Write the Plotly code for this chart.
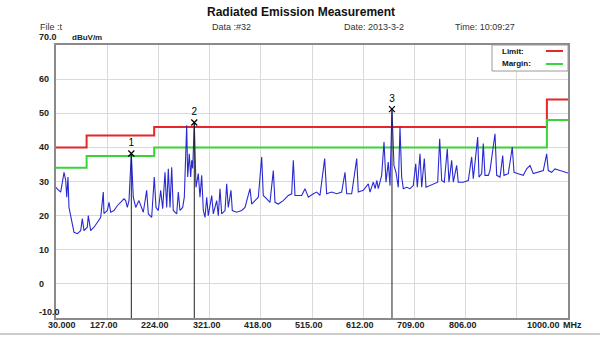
import plotly.graph_objects as go

# Measured spectrum (MHz, dBuV/m)
freq_mhz = [
    30.0, 31.3, 38.9, 45.2, 48.4, 50.3, 52.7, 54.6, 60.9, 64.1, 70.4, 76.8, 79.8, 83.0,
    89.3, 91.2, 95.7, 102.0, 108.2, 114.7, 119.6, 120.9, 127.2, 130.4, 133.6, 139.9,
    146.1, 152.6, 158.8, 162.0, 165.1, 168.3, 172.7, 176.4, 181.0, 187.2, 193.5,
    195.4, 201.8, 204.9, 211.3, 216.2, 219.5, 223.8, 228.4, 232.1, 236.5, 239.7,
    242.8, 246.0, 249.2, 252.2, 258.7, 261.7, 264.9, 270.0, 273.1, 277.6, 279.5,
    282.5, 285.2, 287.1, 289.0, 292.0, 295.2, 299.6, 302.8, 306.0, 309.1, 312.3,
    315.5, 318.5, 325.0, 328.0, 334.4, 337.5, 340.7, 343.9, 350.2,
    353.4, 356.4, 361.5, 364.0, 372.3, 381.8, 388.1, 397.5, 400.8, 407.0, 413.3,
    419.7, 422.7, 429.2, 435.4, 441.7, 444.9, 451.1, 460.6, 470.1, 476.5, 479.6,
    482.8, 489.0, 495.5, 501.7, 508.0, 517.5,
    523.9, 530.1, 539.0, 542.8, 552.3, 561.8, 571.2, 577.5, 580.7, 590.2, 599.7,
    602.7, 612.2, 621.7, 624.9, 631.1, 634.6, 637.8, 640.6, 647.0, 651.4, 655.2,
    659.5, 662.8, 666.5, 670.3, 674.1, 678.5, 681.7, 684.9, 688.0, 694.4, 700.7,
    706.9, 711.5, 714.5, 719.6, 722.8, 727.8, 731.0, 738.5, 748.0, 753.1, 756.9,
    760.7, 765.6, 771.3, 774.5, 779.6, 782.7, 789.1, 792.1, 801.6, 811.1, 817.5,
    820.6, 828.9, 831.4, 836.5, 839.5, 842.7, 849.0, 852.2, 861.7, 864.9, 871.2,
    876.3, 878.7, 886.9, 894.4, 897.7, 905.8, 915.3, 921.7, 928.0, 934.2, 943.7,
    953.2, 959.6, 962.6, 969.1, 975.3, 984.8, 994.3, 1000.0,
]
level_dbuv = [
    28.3, 28.0, 26.9, 32.7, 30.3, 25.4, 31.3, 22.4, 17.6, 15.1, 14.7, 15.6, 19.1, 15.6,
    16.6, 20.0, 15.6, 16.6, 18.0, 19.5, 26.9, 20.6, 21.5, 23.9, 21.0, 21.5,
    22.9, 23.9, 24.9, 24.4, 22.4, 24.4, 38.2, 25.4, 22.4, 24.4, 21.5,
    21.0, 27.4, 20.5, 19.5, 31.3, 22.4, 21.5, 27.4, 22.0, 32.7, 22.4,
    33.7, 22.4, 34.2, 21.5, 20.5, 26.9, 21.5, 22.4, 25.4, 46.5, 31.3,
    38.1, 31.3, 36.2, 33.8, 47.3, 28.3, 32.3, 25.4, 31.8, 21.5, 19.5,
    25.4, 20.0, 25.9, 20.5, 24.4, 20.0, 27.9, 20.5, 21.5,
    29.3, 22.4, 27.4, 21.5, 21.0, 21.5, 22.4, 27.9, 23.4, 24.4, 25.4,
    37.2, 25.9, 24.9, 23.9, 33.2, 23.9, 23.4, 24.4, 25.9, 26.4, 36.2,
    25.9, 25.9, 25.9, 27.9, 25.4, 26.4,
    26.9, 25.9, 36.7, 26.4, 26.9, 26.4, 26.9, 32.7, 26.4, 26.4, 36.7,
    26.9, 27.4, 29.3, 26.9, 29.8, 27.9, 30.3, 27.9, 31.8, 41.6, 29.8,
    35.7, 28.8, 51.2, 34.7, 32.7, 28.3, 46.0, 31.3, 27.9, 28.3, 27.9,
    28.8, 35.2, 28.3, 38.1, 28.3, 36.7, 28.3, 28.8, 29.3, 29.8, 42.5,
    30.3, 29.8, 39.6, 29.8, 36.2, 29.8, 34.7, 29.8, 29.8, 30.3, 37.2,
    30.8, 43.0, 31.3, 32.3, 41.1, 31.8, 31.8, 33.2, 44.0, 31.8, 31.3,
    37.6, 31.8, 32.3, 40.1, 32.7, 32.3, 31.8, 33.7, 34.7, 32.3, 32.7,
    33.2, 38.1, 33.2, 32.7, 33.7, 33.2, 32.7, 32.5,
]

# Limit (FCC class B style) and margin lines, as step edges
limit_freq = [30, 88, 88, 216, 216, 960, 960, 1000]
limit_level = [40.0, 40.0, 43.5, 43.5, 46.0, 46.0, 54.0, 54.0]
margin_level = [34.0, 34.0, 37.5, 37.5, 40.0, 40.0, 48.0, 48.0]

# Peak markers
marker_no = ["1", "2", "3"]
marker_freq = [172.7, 292.0, 666.5]
marker_level = [38.2, 47.3, 51.2]

x_ticks = [30 + 97 * i for i in range(11)]
x_tick_text = ["30.000", "127.00", "224.00", "321.00", "418.00", "515.00",
               "612.00", "709.00", "806.00", "", "1000.00"]
y_ticks = [-10, 0, 10, 20, 30, 40, 50, 60, 70]
y_tick_text = ["-10.0", "0", "10", "20", "30", "40", "50", "60", "70.0"]

FONT = "Liberation Sans, Arial, sans-serif"
L, R, T, B = 56, 32, 45, 21
W, H = 600, 339
PW, PH = W - L - R, H - T - B


def px_x(px):
    return (px - L) / PW


def px_y(py):
    return (H - B - py) / PH


fig = go.Figure()

fig.add_trace(go.Scatter(x=limit_freq, y=limit_level, mode="lines",
                         line=dict(color="#e8262a", width=2), hoverinfo="skip"))
fig.add_trace(go.Scatter(x=limit_freq, y=margin_level, mode="lines",
                         line=dict(color="#3ad43a", width=2), hoverinfo="skip"))
fig.add_trace(go.Scatter(x=freq_mhz, y=level_dbuv, mode="lines",
                         line=dict(color="#2a2ad2", width=1.1), hoverinfo="skip"))

# marker drop lines
for f, v in zip(marker_freq, marker_level):
    fig.add_trace(go.Scatter(x=[f, f], y=[v, -10], mode="lines",
                             line=dict(color="#202020", width=1), hoverinfo="skip"))
fig.add_trace(go.Scatter(x=marker_freq, y=marker_level, mode="markers+text",
                         marker=dict(symbol="x-thin", size=6, color="black",
                                     line=dict(width=1.2, color="black")),
                         text=marker_no, textposition="top center",
                         textfont=dict(family=FONT, size=10, color="black"),
                         hoverinfo="skip"))

annotations = []
# y tick labels, left aligned
for v, t in zip(y_ticks, y_tick_text):
    shift = 0
    if v == 70:
        shift = 8
    elif v == -10:
        shift = 6
    annotations.append(dict(x=px_x(37), xref="paper", y=v, yref="y", yshift=shift,
                            text="<b>" + t + "</b>", showarrow=False, xanchor="left",
                            yanchor="middle",
                            font=dict(family=FONT, size=9, color="#222222")))
annotations.append(dict(x=px_x(70), xref="paper", y=70, yref="y", yshift=8,
                        text="<b>dBuV/m</b>", showarrow=False, xanchor="left",
                        yanchor="middle",
                        font=dict(family=FONT, size=8, color="#222222")))
# x tick labels
for v, t in zip(x_ticks, x_tick_text):
    if not t:
        continue
    shift = -3
    if v == 30:
        shift = 6
    elif v == 1000:
        shift = -25
    annotations.append(dict(x=v, xref="x", y=px_y(325), yref="paper", xshift=shift,
                            text="<b>" + t + "</b>", showarrow=False, xanchor="center",
                            yanchor="middle",
                            font=dict(family=FONT, size=9, color="#222222")))
annotations.append(dict(x=px_x(561), xref="paper", y=px_y(325), yref="paper",
                        text="<b>MHz</b>", showarrow=False, xanchor="left",
                        yanchor="middle",
                        font=dict(family=FONT, size=9, color="#222222")))

# title and header line
annotations.append(dict(x=px_x(301), xref="paper", y=px_y(12), yref="paper",
                        text="<b>Radiated Emission Measurement</b>", showarrow=False,
                        xanchor="center", yanchor="middle",
                        font=dict(family=FONT, size=12, color="#111111")))
for px, t in [(38, "File :t"), (210, "Data :#32"), (342, "Date: 2013-3-2"),
              (453, "Time: 10:09:27")]:
    annotations.append(dict(x=px_x(px), xref="paper", y=px_y(27), yref="paper",
                            text=t, showarrow=False, xanchor="left", yanchor="middle",
                            font=dict(family=FONT, size=9, color="#333333")))

# legend box
for py, t in [(51, "Limit:"), (64, "Margin:")]:
    annotations.append(dict(x=px_x(500), xref="paper", y=px_y(py), yref="paper",
                            text="<b>" + t + "</b>", showarrow=False, xanchor="left",
                            yanchor="middle",
                            font=dict(family=FONT, size=8, color="#111111")))

shapes = [
    dict(type="rect", xref="paper", yref="paper", x0=px_x(492), x1=1, y0=px_y(71), y1=1,
         line=dict(color="#9a9a9a", width=1), fillcolor="white", layer="above"),
    dict(type="line", xref="paper", yref="paper", x0=px_x(546), x1=px_x(563),
         y0=px_y(51), y1=px_y(51), line=dict(color="#e8262a", width=2), layer="above"),
    dict(type="line", xref="paper", yref="paper", x0=px_x(546), x1=px_x(563),
         y0=px_y(64), y1=px_y(64), line=dict(color="#3ad43a", width=2), layer="above"),
    dict(type="line", xref="paper", yref="paper", x0=px_x(0), x1=px_x(600),
         y0=px_y(334), y1=px_y(334), line=dict(color="#9a9a9a", width=1)),
]

fig.update_layout(
    width=W, height=H,
    margin=dict(l=L, r=R, t=T, b=B, pad=0),
    paper_bgcolor="white", plot_bgcolor="white",
    showlegend=False,
    annotations=annotations,
    shapes=shapes,
    xaxis=dict(range=[30, 1000], tickvals=x_ticks, showticklabels=False,
               showgrid=True, gridcolor="#dadada", gridwidth=1, zeroline=False,
               showline=True, linecolor="#8a8a8a", linewidth=1.5, mirror=True,
               ticks=""),
    yaxis=dict(range=[-10, 70], tickvals=y_ticks, showticklabels=False,
               showgrid=True, gridcolor="#dadada", gridwidth=1, zeroline=False,
               showline=True, linecolor="#8a8a8a", linewidth=1.5, mirror=True,
               ticks=""),
)

fig.write_html("out.html")
